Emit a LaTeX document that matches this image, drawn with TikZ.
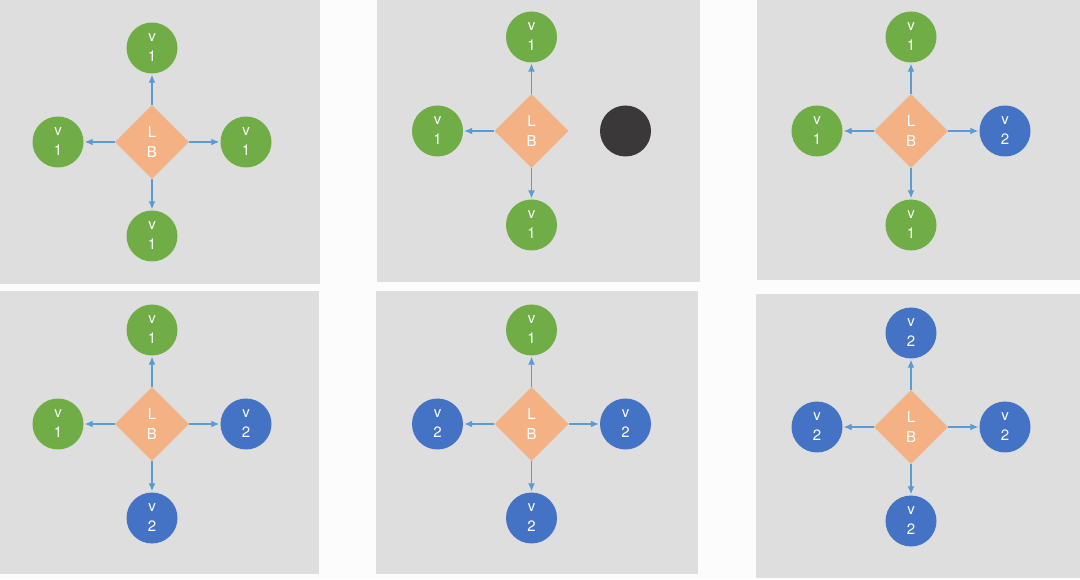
\documentclass[tikz,border=0pt]{standalone}
\usepackage{fontspec}
\setmainfont{TeX Gyre Heros}
\usetikzlibrary{shapes.geometric,arrows.meta}
\definecolor{lbPage}{HTML}{FCFCFC}
\definecolor{lbPanel}{HTML}{DEDEDE}
\definecolor{lbGreen}{HTML}{70AD47}
\definecolor{lbBlue}{HTML}{4472C4}
\definecolor{lbDark}{HTML}{3A3838}
\definecolor{lbOrange}{HTML}{F4B183}
\definecolor{lbArrow}{HTML}{5B9BD5}
\begin{document}
\begin{tikzpicture}
% Six snapshots of a load balancer and its backends
\def\px{1pt}
\providecommand{\lbArrowWidth}{1.3pt}
\providecommand{\lbFont}{\fontsize{15}{20}\selectfont}
\begin{scope}[x=\px, y=\px,
  vnode/.style={circle, minimum size=51pt, inner sep=0pt, text=white, align=center, font=\lbFont},
  vone/.style={vnode, fill=lbGreen},
  vtwo/.style={vnode, fill=lbBlue},
  vdead/.style={vnode, fill=lbDark},
  lb/.style={diamond, minimum width=74pt, minimum height=74pt, inner sep=0pt, fill=lbOrange, text=white, align=center, font=\lbFont},
  link/.style={draw=lbArrow, line width=\lbArrowWidth, -{Latex[length=8pt,width=7pt]}, shorten >=1pt}]
  % Page and panel backgrounds
  \fill[lbPage] (0,0) rectangle (1080,579);
  \fill[lbPanel] (0,295) rectangle (320,579);
  \fill[lbPanel] (377,297) rectangle (700,579);
  \fill[lbPanel] (757,299) rectangle (1080,579);
  \fill[lbPanel] (0,5) rectangle (319,288);
  \fill[lbPanel] (376,5) rectangle (698,288);
  \fill[lbPanel] (756,1) rectangle (1080,285);
  % Panel A: all v1
  \node[lb] (lbA) at (152,437) {L\\B};
  \node[vone] (vAn) at (152,531) {v\\1};
  \node[vone] (vAw) at (58,437) {v\\1};
  \node[vone] (vAe) at (246,437) {v\\1};
  \node[vone] (vAs) at (152,343) {v\\1};
  \draw[link] (lbA) -- (vAn);
  \draw[link] (lbA) -- (vAw);
  \draw[link] (lbA) -- (vAe);
  \draw[link] (lbA) -- (vAs);
  % Panel B: one backend taken out
  \node[lb] (lbB) at (531.5,448) {L\\B};
  \node[vone] (vBn) at (531.5,542) {v\\1};
  \node[vone] (vBw) at (437.5,448) {v\\1};
  \node[vdead] (vBe) at (625.5,448) {};
  \node[vone] (vBs) at (531.5,354) {v\\1};
  \draw[link] (lbB) -- (vBn);
  \draw[link] (lbB) -- (vBw);
  \draw[link] (lbB) -- (vBs);
  % Panel C: first v2
  \node[lb] (lbC) at (911,448) {L\\B};
  \node[vone] (vCn) at (911,542) {v\\1};
  \node[vone] (vCw) at (817,448) {v\\1};
  \node[vtwo] (vCe) at (1005,448) {v\\2};
  \node[vone] (vCs) at (911,354) {v\\1};
  \draw[link] (lbC) -- (vCn);
  \draw[link] (lbC) -- (vCw);
  \draw[link] (lbC) -- (vCe);
  \draw[link] (lbC) -- (vCs);
  % Panel D: two v2
  \node[lb] (lbD) at (152,155) {L\\B};
  \node[vone] (vDn) at (152,249) {v\\1};
  \node[vone] (vDw) at (58,155) {v\\1};
  \node[vtwo] (vDe) at (246,155) {v\\2};
  \node[vtwo] (vDs) at (152,61) {v\\2};
  \draw[link] (lbD) -- (vDn);
  \draw[link] (lbD) -- (vDw);
  \draw[link] (lbD) -- (vDe);
  \draw[link] (lbD) -- (vDs);
  % Panel E: three v2
  \node[lb] (lbE) at (531.5,155) {L\\B};
  \node[vone] (vEn) at (531.5,249) {v\\1};
  \node[vtwo] (vEw) at (437.5,155) {v\\2};
  \node[vtwo] (vEe) at (625.5,155) {v\\2};
  \node[vtwo] (vEs) at (531.5,61) {v\\2};
  \draw[link] (lbE) -- (vEn);
  \draw[link] (lbE) -- (vEw);
  \draw[link] (lbE) -- (vEe);
  \draw[link] (lbE) -- (vEs);
  % Panel F: all v2
  \node[lb] (lbF) at (911,152) {L\\B};
  \node[vtwo] (vFn) at (911,246) {v\\2};
  \node[vtwo] (vFw) at (817,152) {v\\2};
  \node[vtwo] (vFe) at (1005,152) {v\\2};
  \node[vtwo] (vFs) at (911,58) {v\\2};
  \draw[link] (lbF) -- (vFn);
  \draw[link] (lbF) -- (vFw);
  \draw[link] (lbF) -- (vFe);
  \draw[link] (lbF) -- (vFs);
\end{scope}
\end{tikzpicture}
\end{document}
